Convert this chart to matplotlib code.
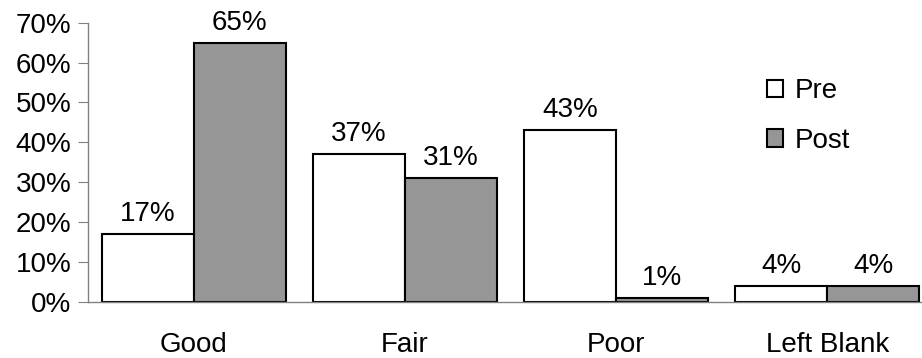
import numpy as np
import matplotlib.pyplot as plt
from matplotlib.ticker import PercentFormatter

plt.rcParams['font.family'] = ['Liberation Sans', 'DejaVu Sans']

categories = ['Good', 'Fair', 'Poor', 'Left Blank']
pre = [17, 37, 43, 4]
post = [65, 31, 1, 4]

FS = 20

fig = plt.figure(figsize=(9.22, 3.58), dpi=100)
# right edge runs past the figure, so the last group sits flush with the border
ax = fig.add_axes([88 / 922, 56.3 / 358, 845 / 922, 279 / 358])

x = np.arange(len(categories))
w = 0.4355
b1 = ax.bar(x - w / 2, pre, w, color='white', edgecolor='black', linewidth=1.5, label='Pre')
b2 = ax.bar(x + w / 2, post, w, color='#969696', edgecolor='black', linewidth=1.5, label='Post')

for bars, vals in ((b1, pre), (b2, post)):
    for r, v in zip(bars, vals):
        ax.annotate(f'{v}%', (r.get_x() + r.get_width() / 2, v),
                    xytext=(0, 5), textcoords='offset points',
                    ha='center', va='bottom', fontsize=FS)

ax.set_xlim(-0.5, 3.5)
ax.set_ylim(0, 70)
ax.set_yticks(range(0, 71, 10))
ax.yaxis.set_major_formatter(PercentFormatter(decimals=0))
ax.set_xticks(x)
ax.set_xticklabels(categories)

for s in ('top', 'right'):
    ax.spines[s].set_visible(False)
for s in ('left', 'bottom'):
    ax.spines[s].set_color('#808080')
    ax.spines[s].set_linewidth(1)
ax.tick_params(axis='y', length=7, color='#808080', labelsize=FS, pad=5)
ax.tick_params(axis='x', length=0, labelsize=FS, pad=22)

ax.legend(loc='upper left', bbox_to_anchor=(0.79, 0.84), frameon=False,
          fontsize=FS, handlelength=0.6, handleheight=0.6, handletextpad=0.4,
          labelspacing=0.85, borderaxespad=0)

fig.savefig('out.png', dpi=100)
